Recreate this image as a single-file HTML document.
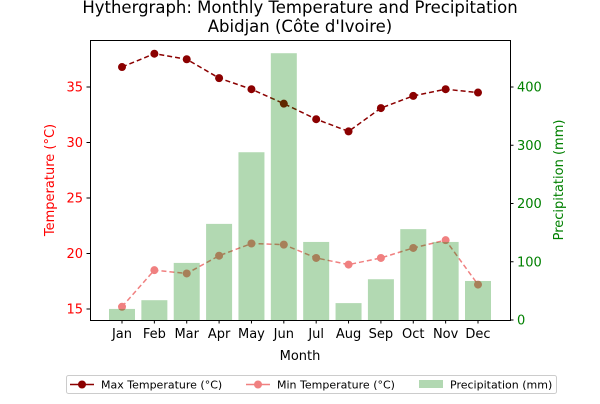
<!DOCTYPE html>
<html><head><meta charset="utf-8"><style>
body{margin:0;background:#fff;font-family:"DejaVu Sans","Liberation Sans",sans-serif}
</style></head><body>
<svg id="c" width="600" height="400" xmlns="http://www.w3.org/2000/svg" font-family="DejaVu Sans, Liberation Sans, sans-serif">
<text x="300" y="13" font-size="16.5" text-anchor="middle">Hythergraph: Monthly Temperature and Precipitation</text>
<text x="300" y="32" font-size="16.5" text-anchor="middle">Abidjan (Côte d'Ivoire)</text>
<g id="lines"></g><g id="bars"></g><g id="axes"></g>
<text transform="translate(54,180) rotate(-90)" font-size="13" fill="red" text-anchor="middle">Temperature (°C)</text>
<text transform="translate(563,180) rotate(-90)" font-size="13" fill="green" text-anchor="middle">Precipitation (mm)</text>
<text x="300" y="360" font-size="13" text-anchor="middle">Month</text>
<g>
<rect x="66.5" y="375.5" width="490" height="18" fill="#fff" stroke="#ccc" rx="2"/>
<line x1="70" y1="384.5" x2="94" y2="384.5" stroke="darkred" stroke-width="1.5"/><circle cx="82" cy="384.5" r="4" fill="darkred"/>
<text x="101" y="388.5" font-size="11">Max Temperature (°C)</text>
<line x1="246" y1="384.5" x2="270" y2="384.5" stroke="lightcoral" stroke-width="1.5"/><circle cx="258" cy="384.5" r="4" fill="lightcoral"/>
<text x="277" y="388.5" font-size="11">Min Temperature (°C)</text>
<rect x="419" y="380" width="24" height="8" fill="#b2d8b2"/>
<text x="450" y="388.5" font-size="11">Precipitation (mm)</text>
</g>
</svg>
<script>
const months=["Jan","Feb","Mar","Apr","May","Jun","Jul","Aug","Sep","Oct","Nov","Dec"];
const maxTemp=[36.8,38.0,37.5,35.8,34.8,33.5,32.1,31.0,33.1,34.2,34.8,34.5];
const minTemp=[15.2,18.5,18.2,19.8,20.9,20.8,19.6,19.0,19.6,20.5,21.2,17.2];
const precip=[19,34,98,165,288,458,134,29,70,156,134,67];
const tempTicks=[15,20,25,30,35];
const precipTicks=[0,100,200,300,400];
const NS="http://www.w3.org/2000/svg";
const L=90,R=510,T=40,B=320;
const xs=i=>122+i*(478-122)/11;
const yT=v=>309-(v-15)*(222/20);
const yP=v=>320-v*(233/400);
function mk(t,a,p){const e=document.createElementNS(NS,t);for(const k in a)e.setAttribute(k,a[k]);(p||document.getElementById('c')).appendChild(e);return e;}
const bars=document.getElementById('bars'),lines=document.getElementById('lines'),axes=document.getElementById('axes');
precip.forEach((v,i)=>{const r=mk('rect',{x:xs(i)-13,y:yP(v),width:26,height:yP(0)-yP(v),fill:'green','fill-opacity':0.3},bars);

});
[[maxTemp,'darkred','max','5,3'],[minTemp,'lightcoral','min','5,3']].forEach(([d,c,n,da])=>{
const pl=mk('polyline',{points:d.map((v,i)=>xs(i)+','+yT(v)).join(' '),fill:'none',stroke:c,'stroke-width':1.5,'stroke-dasharray':da},lines);


d.forEach((v,i)=>{const p=mk('circle',{cx:xs(i),cy:yT(v),r:4,fill:c},lines);

});});
const f=mk('rect',{x:L+.5,y:T+.5,width:R-L,height:B-T,fill:'none',stroke:'#000','stroke-width':1},axes);


tempTicks.forEach(v=>{const y=yT(v);mk('line',{x1:L-3.5,x2:L,y1:y,y2:y,stroke:'#000'},axes);
const t=mk('text',{x:L-7,y:y+4.5,'font-size':13,fill:'red','text-anchor':'end'},axes);t.textContent=v;

});
precipTicks.forEach(v=>{const y=yP(v);mk('line',{x1:R,x2:R+3.5,y1:y,y2:y,stroke:'#000'},axes);
const t=mk('text',{x:R+7,y:y+4.5,'font-size':13,fill:'green'},axes);t.textContent=v;

});
months.forEach((m,i)=>{const x=xs(i);mk('line',{x1:x,x2:x,y1:B,y2:B+3.5,stroke:'#000'},axes);
const t=mk('text',{x:x,y:B+18,'font-size':13,'text-anchor':'middle'},axes);t.textContent=m;

});
</script>
</body></html>
